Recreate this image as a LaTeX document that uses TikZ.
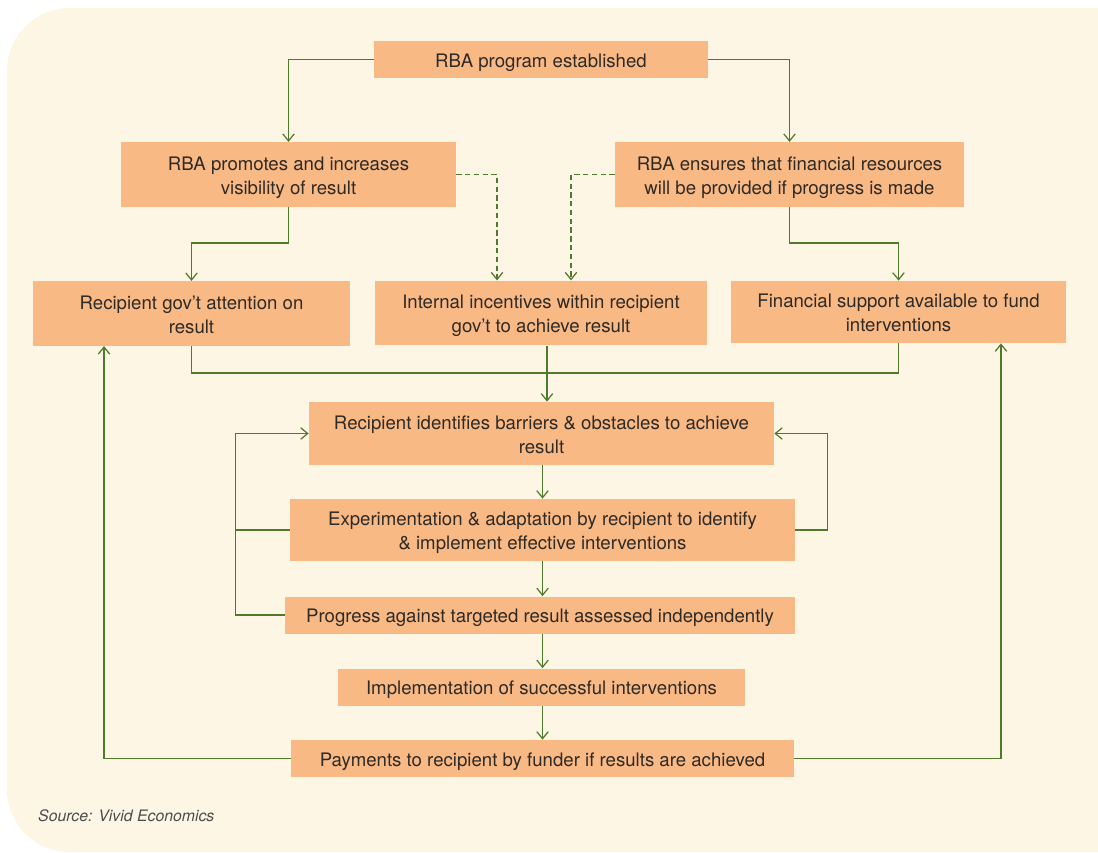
\documentclass[tikz,border=0pt]{standalone}
\usepackage{fontspec}
\setmainfont{TeX Gyre Heros}
\usepackage{tikz}
\usetikzlibrary{arrows.meta}

\definecolor{paper}{HTML}{FDF6E4}
\definecolor{boxfill}{HTML}{F9B985}
\definecolor{linkgreen}{HTML}{4E7A2C}
\definecolor{inktext}{HTML}{2E2A26}

\begin{document}
\begin{tikzpicture} [
	x=0.02cm,y=-0.02cm,
	font=\fontsize{10.6}{13.6}\selectfont,
	text=inktext,
	stepbox/.style={
		rectangle,fill=boxfill,draw=none,align=center,
		inner sep=0pt,minimum height=0.74cm,
		execute at begin node={\rule{0pt}{11pt}}
	},
	twoline/.style={
		stepbox,minimum height=1.29cm,
		text height=22.2pt,text depth=0pt
	},
	link/.style={
		draw=linkgreen,line width=0.7pt
	},
	arr/.style={
		link,-{Straight Barb[length=4pt,width=6.5pt]}
	},
	dasharr/.style={
		arr,dash pattern=on 3pt off 2pt
	}
]
\useasboundingbox (0,0) rectangle (1098,852);
\begin{scope}
	\clip (0,0) rectangle (1098,852);
	\fill [paper,rounded corners=1.25cm] (7,8) rectangle (1170,852);
\end{scope}

\node [stepbox,minimum width=6.68cm]	(established)	at (541,59.5)	{RBA program established};
\node [twoline,minimum width=6.7cm]	(promotes)	at (288.5,174.5)	{RBA promotes and increases\\visibility of result};
\node [twoline,minimum width=6.98cm]	(ensures)	at (789.5,174.5)	{RBA ensures that financial resources\\will be provided if progress is made};
\node [twoline,minimum width=6.34cm]	(attention)	at (191.5,313.5)	{Recipient gov't attention on\\result};
\node [twoline,minimum width=6.64cm]	(incentives)	at (541,313)	{Internal incentives within recipient\\gov't to achieve result};
\node [twoline,minimum width=6.7cm,minimum height=1.24cm]	(finsupport)	at (898.5,312)	{Financial support available to fund\\interventions};
\node [twoline,minimum width=9.3cm,minimum height=1.26cm]	(identifies)	at (541.5,433.5)	{Recipient identifies barriers \& obstacles to achieve\\result};
\node [twoline,minimum width=10.1cm,minimum height=1.24cm]	(experiment)	at (542.5,530)	{Experimentation \& adaptation by recipient to identify\\\& implement effective interventions};
\node [stepbox,minimum width=10.2cm]	(progress)	at (540,615)	{Progress against targeted result assessed independently};
\node [stepbox,minimum width=8.14cm]	(implement)	at (541.5,687)	{Implementation of successful interventions};
\node [stepbox,minimum width=10.06cm]	(payments)	at (542.5,758.5)	{Payments to recipient by funder if results are achieved};

\node [anchor=west,font=\fontsize{9}{11}\selectfont\itshape,text=black!70] (source) at (32,816) {Source: Vivid Economics};

% top split
\draw [arr] (established.west) -| (promotes.north);
\draw [arr] (established.east) -| (ensures.north);

% second row to third row
\draw [arr] (promotes.south) -- ++(0,36) -| (attention.north);
\draw [arr] (ensures.south) -- ++(0,36) -| (finsupport.north);
\draw [dasharr] (promotes.east) -| ([xshift=-0.88cm]incentives.north);
\draw [dasharr] (ensures.west) -| ([xshift=0.6cm]incentives.north);

% third row into the chain
\draw [link] (attention.south) -- ++(0,27) -| (finsupport.south);
\draw [arr] ([xshift=0.12cm]incentives.south) -- ([xshift=0.12cm]incentives.south |- identifies.north);

% main chain
\draw [arr] (experiment.south |- identifies.south) -- (experiment.north);
\draw [arr] (experiment.south) -- (experiment.south |- progress.north);
\draw [arr] (experiment.south |- progress.south) -- (experiment.south |- implement.north);
\draw [arr] (experiment.south |- implement.south) -- (experiment.south |- payments.north);

% feedback loops
\draw [link] (experiment.west) -- ++(-54,0);
\draw [arr] (progress.west) -- ++(-49,0) |- (identifies.west);
\draw [arr] (experiment.east) -- ++(32,0) |- (identifies.east);
\draw [arr] (payments.west) -| ([xshift=-1.75cm]attention.south);
\draw [arr] (payments.east) -| ([xshift=2.05cm]finsupport.south);
\end{tikzpicture}
\end{document}
